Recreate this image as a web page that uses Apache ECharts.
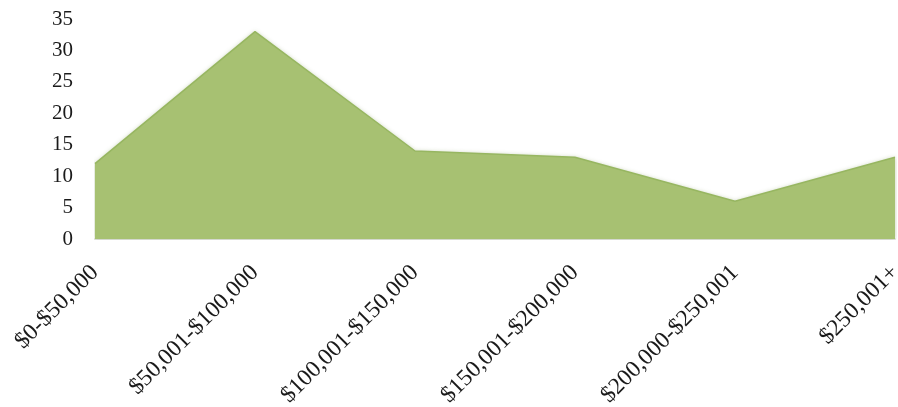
<!DOCTYPE html>
<html>
<head>
<meta charset="utf-8">
<script src="https://cdn.jsdelivr.net/npm/echarts@6/dist/echarts.min.js"></script>
<style>
  html, body { margin: 0; padding: 0; background: #fff; }
  #chart { width: 898px; height: 407px; }
</style>
</head>
<body>
<div id="chart"></div>
<script>
// Income brackets and respondent counts
const categories = ['$0-$50,000', '$50,001-$100,000', '$100,001-$150,000', '$150,001-$200,000', '$200,000-$250,001', '$250,001+'];
const counts = [12, 33, 14, 13, 6, 13];
const yTicks = { min: 0, max: 35, interval: 5 };

const serif = '"Liberation Serif", "Times New Roman", serif';

const chart = echarts.init(document.getElementById('chart'), null, { renderer: 'canvas' });
chart.setOption({
  animation: false,
  backgroundColor: '#ffffff',
  grid: { left: 95, right: 3, top: 19, bottom: 168, containLabel: false, outerBoundsMode: 'none' },
  xAxis: {
    type: 'category',
    data: categories,
    boundaryGap: false,
    axisLine: { show: true, lineStyle: { color: '#e4e4e4', width: 2 } },
    axisTick: { show: false },
    axisLabel: {
      rotate: 45,
      interval: 0,
      margin: 30,
      color: '#1a1a1a',
      fontFamily: serif,
      fontSize: 23.5
    },
    splitLine: { show: false }
  },
  yAxis: {
    type: 'value',
    min: yTicks.min,
    max: yTicks.max,
    interval: yTicks.interval,
    axisLine: { show: false },
    axisTick: { show: false },
    splitLine: { show: false },
    axisLabel: {
      margin: 22,
      color: '#1a1a1a',
      fontFamily: serif,
      fontSize: 21
    }
  },
  series: [{
    type: 'line',
    data: counts,
    symbol: 'none',
    lineStyle: { color: '#97b661', width: 1.5 },
    areaStyle: {
      color: '#a7c172',
      opacity: 1,
      shadowColor: 'rgba(90,120,40,0.35)',
      shadowBlur: 4
    }
  }]
});
</script>
</body>
</html>
